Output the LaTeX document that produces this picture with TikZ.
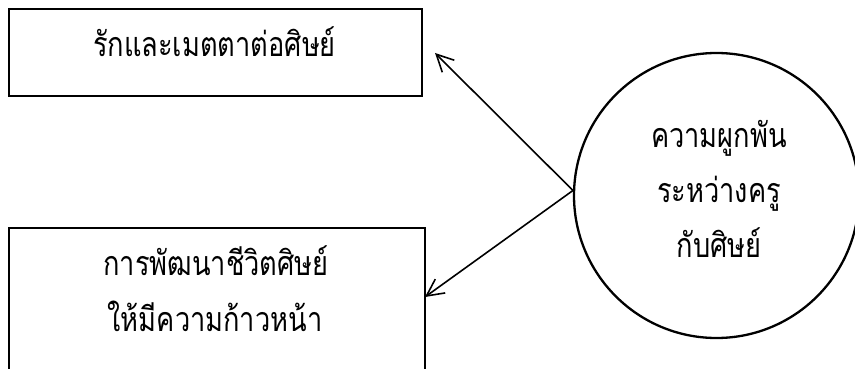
\documentclass[tikz,border=0pt]{standalone}
\usepackage{fontspec}
\newfontfamily\thaifont[Script=Thai,FakeStretch=0.8]{Loma}
\usetikzlibrary{arrows.meta}
\begin{document}
\begin{tikzpicture}[x=1pt,y=-1pt,
  box/.style={draw,line width=1.2pt,inner sep=0pt},
  lbl/.style={font=\thaifont\fontsize{34}{38}\selectfont,inner sep=0pt,anchor=base},
  conn/.style={line width=1.6pt,-{Straight Barb[length=17pt,width=17pt,line width=1.6pt]}},
]
\clip (0,0) rectangle (855,369);
\fill[white] (0,0) rectangle (855,369);
\node[box,minimum width=413pt,minimum height=87pt] (b1) at (215.5,52.5) {};
\node[box,minimum width=416pt,minimum height=200pt] (b2) at (217,328) {};
\node[draw,circle,line width=2.3pt,minimum size=285pt,inner sep=0pt] (c) at (716.5,195.5) {};
\node[lbl] (t1) at (214.5,57) {รักและเมตตาต่อศิษย์};
\node[lbl] (t2) at (216,275) {การพัฒนาชีวิตศิษย์};
\node[lbl] (t3) at (215,331) {ให้มีความก้าวหน้า};
\node[lbl] (t4) at (719,147) {ความผูกพัน};
\node[lbl] (t5) at (719,202) {ระหว่างครู};
\node[lbl] (t6) at (719,257) {กับศิษย์};
\coordinate (src) at (c.178);
\coordinate (e1) at (435,53);
\coordinate (e2) at (425,297);
\draw[conn] (src) -- (e1);
\draw[conn] (src) -- (e2);
\end{tikzpicture}
\end{document}
